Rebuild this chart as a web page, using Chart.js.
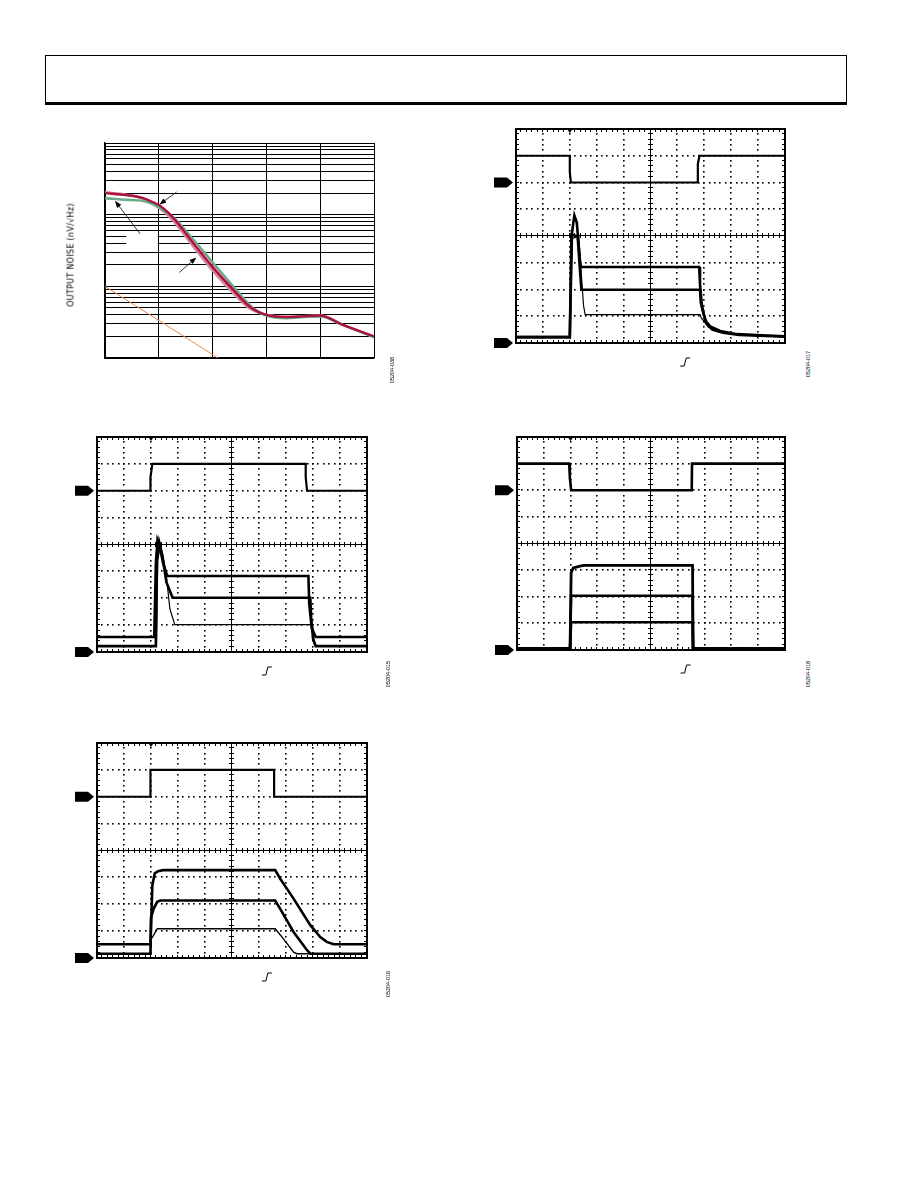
<!DOCTYPE html>
<html>
<head>
<meta charset="utf-8">
<script src="https://cdn.jsdelivr.net/npm/chart.js@4.4.1/dist/chart.umd.min.js"></script>
<style>
html, body { margin: 0; padding: 0; background: #fff; }
body { width: 918px; height: 1188px; position: relative; overflow: hidden; font-family: "Liberation Sans", Arial, sans-serif; }
.hdr { position: absolute; left: 45px; top: 55px; width: 800px; height: 46px; border: 1px solid #000; border-bottom: 3px solid #000; }
canvas { position: absolute; }
.rot { position: absolute; transform: translate(-50%, -50%) rotate(-90deg); white-space: nowrap; color: #000; }
.ytitle { font-size: 8.6px; letter-spacing: 0.3px; font-family: "DejaVu Sans", sans-serif; font-size: 8px; }
.figid { font-size: 5.5px; }
</style>
</head>
<body>
<div class="hdr"></div>

<canvas id="noise"></canvas>
<canvas id="scopeA"></canvas>
<canvas id="scopeB"></canvas>
<canvas id="scopeC"></canvas>
<canvas id="scopeD"></canvas>

<div class="rot ytitle" style="left:71px;top:255px;">OUTPUT NOISE (nV/√Hz)</div>
<div class="rot figid" style="left:392px;top:370px;">05204-038</div>
<div class="rot figid" style="left:808px;top:364px;">05204-017</div>
<div class="rot figid" style="left:388px;top:674px;">05204-015</div>
<div class="rot figid" style="left:808px;top:674px;">05204-018</div>
<div class="rot figid" style="left:388px;top:984px;">05204-016</div>

<script>
// ---------- output noise vs frequency ----------
var noiseTicksX = [10, 100, 1000, 10000, 100000, 1000000];
var noiseTicksY = [1, 2, 3, 4, 5, 6, 7, 8, 9, 10, 20, 30, 40, 50, 60, 70, 80, 90, 100, 200, 300, 400, 500, 600, 700, 800, 900, 1000];

var redFreq = [10, 25, 51, 79, 105, 186, 437, 977, 2400, 4900, 10000, 23400, 41700, 100000, 263000, 1000000];
var redNoise = [200, 187, 170, 148, 133, 90, 40, 19, 9, 5.2, 4.0, 3.73, 3.8, 3.9, 2.9, 2.0];

var pinkFreq = [10, 25, 51, 98, 186, 437, 977, 2400, 4900, 10000, 23400, 41700, 100000, 263000, 1000000];
var pinkNoise = [205, 190, 168, 128, 82, 36, 17, 8.1, 4.9, 4.0, 3.73, 3.8, 3.9, 2.9, 2.0];

var greenFreq = [10, 25, 51, 98, 186, 437, 977, 2400, 5600, 10000, 23400, 41700, 100000, 263000, 1000000];
var greenNoise = [170, 161, 155, 128, 92, 45, 22, 10, 5.0, 3.9, 3.6, 3.7, 3.8, 2.9, 1.95];

var floorFreq = [10, 1260];
var floorNoise = [10, 1];

// ---------- scope captures (x in divisions 0..10, y in divisions 0..8) ----------
var scopeA1X = [0, 2.0, 2.0, 2.04, 6.76, 6.76, 6.82, 10];
var scopeA1Y = [7, 7, 6.4, 6.0, 6.0, 6.7, 7, 7];
var scopeA2X = [0, 2.0, 2.08, 2.17, 2.26, 2.39, 2.43, 6.81, 6.84, 6.91, 7.03, 7.22, 7.59, 8.21, 9.32, 10];
var scopeA2Y = [0.22, 0.22, 4.11, 4.77, 4.5, 2.95, 2.84, 2.84, 2.2, 1.4, 0.85, 0.62, 0.45, 0.33, 0.28, 0.25];
var scopeA3X = [0, 2.0, 2.06, 2.29, 2.43, 6.84, 6.87, 6.97, 7.09, 7.3, 7.7, 8.3, 9.3, 10];
var scopeA3Y = [0.22, 0.22, 4.05, 3.99, 1.99, 1.99, 1.5, 1.1, 0.72, 0.5, 0.38, 0.3, 0.26, 0.24];
var scopeA4X = [0, 2.0, 2.08, 2.33, 2.51, 2.57, 6.84, 6.88, 7.0, 7.15, 7.5, 8.0, 9.0, 10];
var scopeA4Y = [0.22, 0.22, 3.9, 3.99, 1.4, 1.06, 1.06, 0.95, 0.8, 0.6, 0.42, 0.33, 0.27, 0.24];

var scopeB1X = [0, 1.98, 1.98, 2.05, 7.73, 7.73, 7.78, 10];
var scopeB1Y = [6, 6, 6.5, 7, 7, 6.5, 6, 6];
var scopeB2X = [0, 2.12, 2.18, 2.24, 2.33, 2.45, 2.6, 7.83, 7.86, 7.95, 8.1, 10];
var scopeB2Y = [0.56, 0.56, 3.3, 4.16, 3.9, 3.3, 2.83, 2.83, 1.8, 0.9, 0.56, 0.56];
var scopeB3X = [0, 2.18, 2.22, 2.3, 2.42, 2.57, 2.8, 7.9, 7.93, 8.0, 8.1, 10];
var scopeB3Y = [0.22, 0.22, 3.5, 4.1, 3.6, 2.6, 2.02, 2.02, 1.3, 0.5, 0.22, 0.22];
var scopeB4X = [0, 2.2, 2.25, 2.35, 2.55, 2.7, 2.88, 7.98, 8.0, 8.05, 8.12, 10];
var scopeB4Y = [0.22, 0.22, 3.4, 4.0, 3.0, 1.6, 1.02, 1.02, 0.7, 0.3, 0.22, 0.22];

var scopeC1X = [0, 1.95, 1.97, 2.02, 6.52, 6.53, 10];
var scopeC1Y = [7, 7, 6.5, 6, 6, 7, 7];
var scopeC2X = [0, 1.98, 2.02, 2.1, 2.35, 2.5, 6.55, 6.57, 10];
var scopeC2Y = [0.06, 0.06, 2.9, 3.08, 3.15, 3.18, 3.18, 0.05, 0.05];
var scopeC3X = [0, 1.98, 2.02, 6.55, 6.57, 10];
var scopeC3Y = [0.06, 0.06, 2.04, 2.04, 0.05, 0.05];
var scopeC4X = [0, 1.98, 2.02, 6.55, 6.57, 10];
var scopeC4Y = [0.06, 0.06, 1.04, 1.04, 0.05, 0.05];

var scopeD1X = [0, 1.98, 1.98, 6.56, 6.56, 10];
var scopeD1Y = [6, 6, 7, 7, 6, 6];
var scopeD2X = [0, 1.98, 2.05, 2.14, 2.26, 2.45, 6.6, 6.78, 7.28, 7.9, 8.27, 8.51, 8.76, 10];
var scopeD2Y = [0.51, 0.51, 2.71, 3.15, 3.23, 3.27, 3.27, 2.96, 2.21, 1.22, 0.78, 0.6, 0.51, 0.51];
var scopeD3X = [0, 1.98, 2.0, 2.1, 2.23, 2.35, 6.6, 6.78, 7.28, 7.78, 7.9, 10];
var scopeD3Y = [0.16, 0.16, 1.5, 1.84, 2.09, 2.14, 2.14, 1.84, 0.97, 0.29, 0.16, 0.16];
var scopeD4X = [0, 1.98, 2.0, 2.1, 2.23, 6.6, 6.9, 7.28, 7.4, 10];
var scopeD4Y = [0.16, 0.16, 0.7, 0.85, 1.09, 1.09, 0.72, 0.22, 0.16, 0.16];

Chart.defaults.font.family = '"Liberation Sans", Arial, sans-serif';

function pts(xs, ys) {
    return xs.map(function(x, i) { return {x: x, y: ys[i]}; });
}

function placeCanvas(id, area, pad) {
    var cv = document.getElementById(id);
    cv.width = area.w + pad.left + pad.right;
    cv.height = area.h + pad.top + pad.bottom;
    cv.style.left = (area.x - pad.left) + "px";
    cv.style.top = (area.y - pad.top) + "px";
    cv.style.width = cv.width + "px";
    cv.style.height = cv.height + "px";
    return cv;
}

function arrow(ctx, x0, y0, x1, y1) {
    var ang = Math.atan2(y1 - y0, x1 - x0);
    ctx.beginPath();
    ctx.moveTo(x0, y0);
    ctx.lineTo(x1 - 5 * Math.cos(ang), y1 - 5 * Math.sin(ang));
    ctx.lineWidth = 0.8;
    ctx.stroke();
    ctx.beginPath();
    ctx.moveTo(x1, y1);
    ctx.lineTo(x1 - 7 * Math.cos(ang) + 2.6 * Math.sin(ang), y1 - 7 * Math.sin(ang) - 2.6 * Math.cos(ang));
    ctx.lineTo(x1 - 7 * Math.cos(ang) - 2.6 * Math.sin(ang), y1 - 7 * Math.sin(ang) + 2.6 * Math.cos(ang));
    ctx.closePath();
    ctx.fill();
}

// label patches and callout arrows on the noise plot
var noiseMarks = {
    id: "noiseMarks",
    beforeDatasetsDraw: function(chart) {
        var x = chart.scales.x, y = chart.scales.y, ctx = chart.ctx;
        ctx.save();
        ctx.fillStyle = "#fff";
        var l = x.getPixelForValue(25), r = x.getPixelForValue(100);
        var t = y.getPixelForValue(52), b = y.getPixelForValue(35);
        ctx.fillRect(l, t, r - l - 1, b - t);
        ctx.restore();
    },
    afterDatasetsDraw: function(chart) {
        var x = chart.scales.x, y = chart.scales.y, ctx = chart.ctx;
        ctx.save();
        ctx.strokeStyle = "#000";
        ctx.fillStyle = "#000";
        arrow(ctx, x.getPixelForValue(214), y.getPixelForValue(207), x.getPixelForValue(102), y.getPixelForValue(138));
        arrow(ctx, x.getPixelForValue(45), y.getPixelForValue(54), x.getPixelForValue(15.3), y.getPixelForValue(156));
        arrow(ctx, x.getPixelForValue(240), y.getPixelForValue(15.6), x.getPixelForValue(500), y.getPixelForValue(25.3));
        ctx.restore();
    }
};

var noisePad = {left: 45, right: 26, top: 13, bottom: 22};
var noiseCanvas = placeCanvas("noise", {x: 105, y: 143, w: 269, h: 215}, noisePad);

// first dataset is painted on top
new Chart(noiseCanvas, {
    type: "line",
    data: {
        datasets: [
            {data: pts(redFreq, redNoise), borderColor: "#a8143f", borderWidth: 2.4, cubicInterpolationMode: "monotone"},
            {data: pts(greenFreq, greenNoise), borderColor: "#6aab88", borderWidth: 2.6, cubicInterpolationMode: "monotone"},
            {data: pts(pinkFreq, pinkNoise), borderColor: "#e07f9c", borderWidth: 2.6, cubicInterpolationMode: "monotone"},
            {data: pts(floorFreq, floorNoise), borderColor: "#f08a4b", borderWidth: 1}
        ]
    },
    options: {
        responsive: false,
        animation: false,
        devicePixelRatio: 1,
        layout: {padding: noisePad},
        elements: {point: {radius: 0}},
        plugins: {legend: {display: false}, tooltip: {enabled: false}},
        scales: {
            x: {
                type: "logarithmic", min: 10, max: 1000000,
                afterBuildTicks: function(s) { s.ticks = noiseTicksX.map(function(v) { return {value: v}; }); },
                ticks: {display: false, autoSkip: false},
                grid: {color: "#000", lineWidth: 1, drawTicks: false},
                border: {color: "#000", width: 1.3}
            },
            y: {
                type: "logarithmic", min: 1, max: 1000,
                afterBuildTicks: function(s) { s.ticks = noiseTicksY.map(function(v) { return {value: v}; }); },
                ticks: {display: false, autoSkip: false},
                grid: {color: "#000", lineWidth: 1, drawTicks: false},
                border: {color: "#000", width: 1.3}
            }
        }
    },
    plugins: [noiseMarks]
});

// oscilloscope graticule, channel markers and trigger symbols
var scopeGrid = {
    id: "scopeGrid",
    beforeDatasetsDraw: function(chart) {
        var x = chart.scales.x, y = chart.scales.y, ctx = chart.ctx, a = chart.chartArea;
        var i, k, px, py;
        ctx.save();
        ctx.fillStyle = "#000";
        for (i = 1; i < 10; i++) {
            if (i === 5) continue;
            px = Math.round(x.getPixelForValue(i));
            for (k = 0; k <= 40; k++) {
                py = Math.round(y.getPixelForValue(k * 0.2));
                ctx.fillRect(px - 1, py - 1, 1.6, 1.6);
            }
        }
        for (i = 1; i < 8; i++) {
            if (i === 4) continue;
            py = Math.round(y.getPixelForValue(i));
            for (k = 0; k <= 50; k++) {
                px = Math.round(x.getPixelForValue(k * 0.2));
                ctx.fillRect(px - 1, py - 1, 1.6, 1.6);
            }
        }
        // centre cross with minor ticks
        var cx = Math.round(x.getPixelForValue(5)) - 0.5, cy = Math.round(y.getPixelForValue(4)) - 0.5;
        ctx.strokeStyle = "#000";
        ctx.lineWidth = 1;
        ctx.beginPath();
        ctx.moveTo(cx, a.top); ctx.lineTo(cx, a.bottom);
        ctx.moveTo(a.left, cy); ctx.lineTo(a.right, cy);
        for (k = 0; k <= 50; k++) {
            px = Math.round(x.getPixelForValue(k * 0.2)) - 0.5;
            ctx.moveTo(px, cy - 2.5); ctx.lineTo(px, cy + 2.5);
            ctx.moveTo(px, a.top); ctx.lineTo(px, a.top + 3);
            ctx.moveTo(px, a.bottom); ctx.lineTo(px, a.bottom - 3);
        }
        for (k = 0; k <= 40; k++) {
            py = Math.round(y.getPixelForValue(k * 0.2)) - 0.5;
            ctx.moveTo(cx - 2.5, py); ctx.lineTo(cx + 2.5, py);
            ctx.moveTo(a.left, py); ctx.lineTo(a.left + 3, py);
            ctx.moveTo(a.right, py); ctx.lineTo(a.right - 3, py);
        }
        ctx.stroke();
        ctx.restore();
    },
    afterDraw: function(chart) {
        var x = chart.scales.x, y = chart.scales.y, ctx = chart.ctx, a = chart.chartArea;
        ctx.save();
        ctx.strokeStyle = "#000";
        ctx.fillStyle = "#000";
        ctx.lineWidth = 2;
        ctx.strokeRect(a.left, a.top, a.right - a.left, a.bottom - a.top);
        // channel ground markers at 6 div and 0 div
        [6, 0].forEach(function(v) {
            var py = y.getPixelForValue(v);
            var l = a.left - 22;
            ctx.beginPath();
            ctx.moveTo(l, py - 5);
            ctx.lineTo(l + 13, py - 5);
            ctx.lineTo(l + 19, py);
            ctx.lineTo(l + 13, py + 5);
            ctx.lineTo(l, py + 5);
            ctx.closePath();
            ctx.fill();
        });
        // trigger position marker
        var tx = x.getPixelForValue(2);
        ctx.beginPath();
        ctx.moveTo(tx - 3.5, a.top - 1);
        ctx.lineTo(tx + 3.5, a.top - 1);
        ctx.lineTo(tx, a.top + 4);
        ctx.closePath();
        ctx.fill();
        // rising-edge trigger symbol below the graticule
        var sx = x.getPixelForValue(6.29), sy = a.bottom + 19;
        ctx.lineWidth = 1;
        ctx.beginPath();
        ctx.moveTo(sx - 5, sy + 4);
        ctx.lineTo(sx - 1, sy + 4);
        ctx.lineTo(sx + 1, sy - 4);
        ctx.lineTo(sx + 5, sy - 4);
        ctx.stroke();
        ctx.restore();
    }
};

function makeScope(id, area, traces) {
    var pad = {left: 30, right: 20, top: 10, bottom: 34};
    var cv = placeCanvas(id, area, pad);
    new Chart(cv, {
        type: "line",
        data: {
            datasets: traces.map(function(t) {
                return {data: pts(t[0], t[1]), borderColor: "#000", borderWidth: t[2], tension: 0, borderJoinStyle: "miter"};
            })
        },
        options: {
            responsive: false,
            animation: false,
            devicePixelRatio: 1,
            layout: {padding: pad},
            elements: {point: {radius: 0}},
            plugins: {legend: {display: false}, tooltip: {enabled: false}},
            scales: {
                x: {type: "linear", min: 0, max: 10, display: false},
                y: {type: "linear", min: 0, max: 8, display: false}
            }
        },
        plugins: [scopeGrid]
    });
}

makeScope("scopeA", {x: 516, y: 129, w: 269, h: 214}, [
    [scopeA1X, scopeA1Y, 2.2],
    [scopeA4X, scopeA4Y, 1.2],
    [scopeA3X, scopeA3Y, 2.6],
    [scopeA2X, scopeA2Y, 2.6]
]);
makeScope("scopeB", {x: 97, y: 437, w: 270, h: 215}, [
    [scopeB1X, scopeB1Y, 2.2],
    [scopeB4X, scopeB4Y, 1.2],
    [scopeB3X, scopeB3Y, 2.6],
    [scopeB2X, scopeB2Y, 2.6]
]);
makeScope("scopeC", {x: 517, y: 437, w: 268, h: 213}, [
    [scopeC1X, scopeC1Y, 2.6],
    [scopeC4X, scopeC4Y, 2.6],
    [scopeC3X, scopeC3Y, 2.6],
    [scopeC2X, scopeC2Y, 2.8]
]);
makeScope("scopeD", {x: 97, y: 743, w: 270, h: 215}, [
    [scopeD1X, scopeD1Y, 2.2],
    [scopeD4X, scopeD4Y, 1.4],
    [scopeD3X, scopeD3Y, 2.6],
    [scopeD2X, scopeD2Y, 2.6]
]);
</script>
</body>
</html>
